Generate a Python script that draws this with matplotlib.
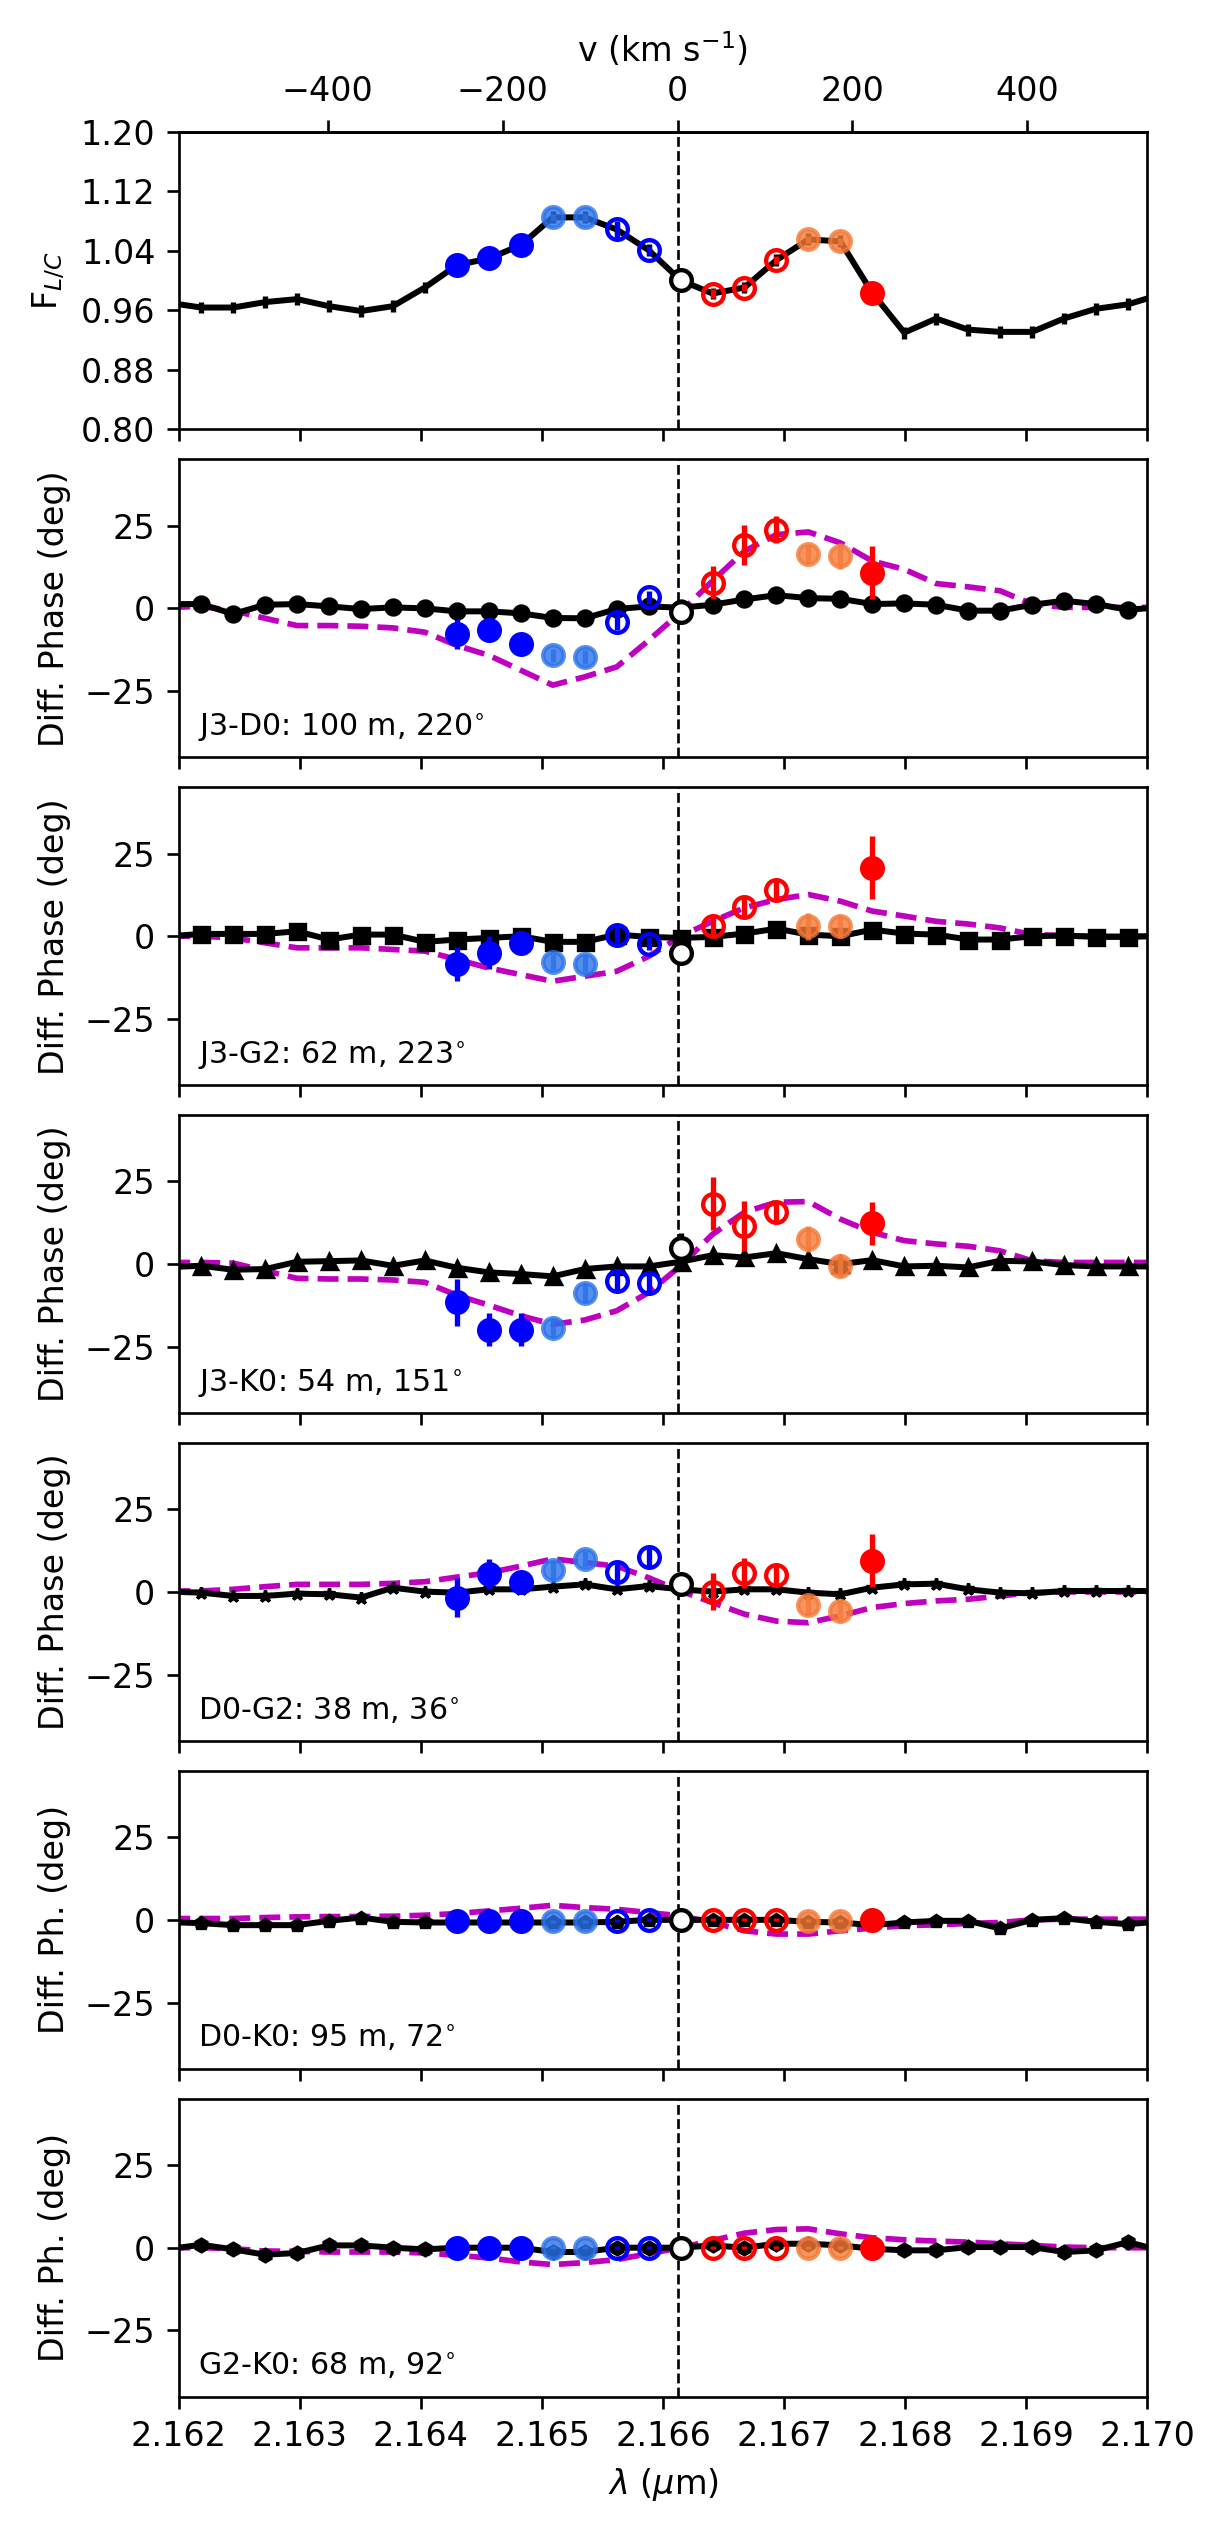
import numpy as np
import matplotlib
matplotlib.use('Agg')
import matplotlib.pyplot as plt
from matplotlib.ticker import FormatStrFormatter

LAM0 = 2.16612          # Br gamma rest wavelength (um)
C_KMS = 299792.458

# spectral channels (um)
wave = [2.161921, 2.162185, 2.162449, 2.162713, 2.162977, 2.163241, 2.163505, 2.163769,
        2.164033, 2.164297, 2.164561, 2.164825, 2.165089, 2.165353, 2.165617, 2.165881,
        2.166145, 2.166409, 2.166673, 2.166937, 2.167201, 2.167465, 2.167729, 2.167993,
        2.168257, 2.168521, 2.168785, 2.169049, 2.169313, 2.169577, 2.169841, 2.170105]

# line-to-continuum flux
flux = [0.970, 0.9637, 0.9637, 0.971, 0.975, 0.9655, 0.959, 0.9655, 0.9906, 1.0206, 1.0296,
        1.0475, 1.0848, 1.0848, 1.0686, 1.0408, 1.0004, 0.9825, 0.9906, 1.0274, 1.0552,
        1.0525, 0.9834, 0.930, 0.9489, 0.934, 0.931, 0.931, 0.949, 0.962, 0.968, 0.981]
flux_err = 0.008
flux_sel_err = [0.005, 0.005, 0.005, 0.005, 0.005, 0.012, 0.006,
                0.005, 0.006, 0.005, 0.005, 0.005, 0.005, 0.005]

# channels inside the line (index range in wave)
i_first, i_last = 9, 22

baselines = ['J3-D0: 100 m, 220$^{\\circ}$', 'J3-G2: 62 m, 223$^{\\circ}$',
             'J3-K0: 54 m, 151$^{\\circ}$', 'D0-G2: 38 m, 36$^{\\circ}$',
             'D0-K0: 95 m, 72$^{\\circ}$', 'G2-K0: 68 m, 92$^{\\circ}$']
ylabels = ['Diff. Phase (deg)'] * 4 + ['Diff. Ph. (deg)'] * 2
cont_markers = ['o', 's', '^', '*', 'p', 'h']
vel_ticks = [-400, -200, 0, 200, 400]

# differential phase, all channels (black)
dphi_all = [
    [1.3, 1.3, -1.7, 1.1, 1.3, 0.6, -0.2, 0.3, 0.0, -0.9, -0.9, -1.5, -2.9, -3.0, -0.2, 0.6,
     0.2, 1.1, 2.7, 4.0, 3.1, 2.9, 1.3, 1.5, 1.1, -0.7, -0.7, 1.1, 2.3, 1.3, -0.4, 0.3],
    [0.0, 0.7, 0.7, 0.7, 1.5, -1.0, 0.5, 0.5, -1.7, -1.0, -0.5, 0.0, -1.7, -1.7, 0.5, -0.2,
     -0.5, -0.2, 0.8, 2.3, 0.5, 0.0, 2.0, 0.8, 0.5, -1.0, -1.0, 0.0, 0.2, -0.2, -0.2, 0.1],
    [-0.9, -0.5, -1.7, -1.5, 0.7, 0.9, 1.1, -0.5, 1.1, -1.1, -2.5, -3.0, -3.7, -1.5, -0.7, -0.7,
     0.7, 2.7, 2.0, 3.3, 1.5, 0.0, 1.2, -0.7, -0.5, -1.0, 1.0, 0.8, -0.3, -0.7, -0.7, -0.7],
    [0.1, -0.2, -1.2, -1.2, -0.5, -0.7, -1.7, 1.3, 0.1, -0.2, 0.8, 0.8, 1.6, 2.3, 0.8, 1.8,
     0.8, 0.1, 0.8, 0.8, -0.2, -0.7, 1.3, 2.3, 2.5, 0.8, -0.2, -0.4, 0.3, 0.3, 0.3, 0.3],
    [-0.7, -1.0, -1.6, -1.6, -1.6, -0.3, 0.7, -0.6, -0.8, -0.8, -0.8, -0.8, -0.8, -0.8, -0.6, 0.0,
     0.0, 0.0, 0.0, 0.0, -0.6, -0.8, -1.6, -0.8, -0.3, -0.3, -2.6, 0.0, 0.5, -0.6, -1.3, -0.5],
    [-0.4, 0.9, -0.5, -2.1, -1.6, 0.7, 0.7, 0.0, -0.5, 0.0, 0.0, 0.0, -1.3, -1.3, 0.0, 0.0,
     0.0, 0.7, 0.0, 1.2, 1.2, 0.7, -0.3, -0.8, -0.8, 0.2, 0.2, 0.2, -1.3, -0.8, 1.7, -0.8],
]
dphi_all_err = 0.7

# differential phase of the line channels (coloured points)
dphi_line = [
    [-7.7, -6.5, -10.7, -14.2, -14.7, -4.0, 3.3, -1.2, 7.8, 19.1, 23.8, 16.3, 15.8, 10.8],
    [-8.4, -5.0, -2.0, -7.8, -8.3, 0.5, -2.2, -5.0, 3.0, 8.8, 13.9, 3.0, 3.0, 20.7],
    [-11.6, -19.9, -19.9, -19.2, -8.8, -5.0, -5.8, 5.0, 18.2, 11.6, 15.7, 7.6, -0.5, 12.4],
    [-1.7, 5.5, 3.0, 6.5, 9.9, 6.1, 10.6, 2.3, 0.1, 5.8, 5.0, -4.0, -5.7, 9.4],
    [-0.3, -0.3, -0.3, -0.4, -0.4, -0.3, 0.0, 0.0, 0.0, 0.0, 0.0, -0.3, -0.3, -0.1],
    [0.0, 0.0, 0.0, 0.0, 0.0, 0.0, 0.0, 0.0, 0.0, 0.0, 0.0, 0.0, 0.0, 0.0],
]
dphi_line_err = [
    [4.5, 3.5, 3.0, 2.0, 2.0, 2.5, 2.0, 1.5, 5.0, 6.0, 4.0, 3.0, 4.0, 8.0],
    [5.0, 5.0, 3.0, 2.5, 2.5, 2.5, 2.0, 2.5, 3.0, 3.0, 3.0, 4.0, 3.5, 9.5],
    [7.0, 5.0, 5.0, 3.0, 3.0, 3.0, 3.5, 4.5, 8.0, 7.5, 3.0, 4.0, 3.5, 6.5],
    [6.0, 4.5, 3.0, 3.0, 2.5, 3.0, 3.0, 2.0, 5.5, 4.5, 3.5, 3.0, 3.5, 8.0],
    [0.5, 0.5, 0.5, 0.5, 0.5, 0.5, 0.5, 0.5, 0.5, 0.5, 0.5, 0.5, 0.5, 0.5],
    [0.5, 0.5, 0.5, 0.5, 0.5, 0.5, 0.5, 0.5, 0.5, 0.5, 0.5, 0.5, 0.5, 0.5],
]

# model differential phase (magenta dashed)
dphi_model = [
    [0.3, 0.6, -0.7, -3.0, -5.2, -5.2, -5.4, -5.9, -7.2, -11.2, -14.2, -18.7, -23.2, -20.7, -17.7, -9.7,
     -1.2, 8.3, 17.3, 22.3, 23.1, 19.8, 14.3, 11.8, 7.5, 6.5, 5.3, 1.3, 0.3, 0.3, 0.3, 0.3],
    [0.0, 0.0, -0.5, -2.0, -3.5, -3.5, -3.5, -4.0, -4.5, -7.0, -9.6, -11.6, -13.6, -12.1, -10.6, -6.1,
     0.0, 4.5, 8.6, 11.1, 12.6, 10.6, 7.6, 6.1, 4.5, 3.7, 2.5, 0.5, 0.2, 0.0, 0.0, 0.0],
    [0.5, 0.5, 0.3, -2.0, -4.3, -4.5, -4.5, -4.8, -5.5, -9.4, -12.4, -15.6, -18.2, -16.9, -14.1, -8.6,
     -0.5, 9.0, 15.7, 18.7, 18.9, 13.6, 9.6, 7.1, 6.1, 5.4, 4.0, 1.0, 0.5, 0.5, 0.5, 0.5],
    [0.3, 0.3, 0.8, 1.6, 2.3, 2.3, 2.3, 2.6, 3.1, 4.5, 5.8, 7.8, 10.0, 8.9, 7.8, 4.3,
     0.3, -3.2, -6.7, -8.8, -9.3, -7.2, -4.7, -3.5, -2.7, -2.2, -1.2, -0.2, 0.0, 0.0, 0.0, 0.0],
    [0.4, 0.4, 0.4, 0.7, 0.9, 1.0, 1.0, 1.1, 1.4, 1.9, 2.7, 3.5, 4.4, 3.7, 3.2, 2.2,
     1.2, -0.8, -3.3, -4.3, -4.3, -3.3, -2.5, -1.8, -1.5, -1.1, -0.8, 0.0, 0.2, 0.2, 0.2, 0.2],
    [0.0, 0.0, -0.3, -1.0, -1.1, -1.3, -1.3, -1.3, -1.6, -2.3, -3.1, -4.3, -5.1, -4.5, -3.6, -1.8,
     0.0, 2.2, 4.4, 5.5, 5.7, 4.2, 3.0, 2.4, 2.0, 1.7, 1.2, 0.7, 0.2, 0.0, 0.0, 0.0],
]

# style of each line channel: (edge colour, face colour, alpha)
LBLUE = '#2a72ea'
ORANGE = '#f47a38'
pt_styles = ([('blue', 'blue', 1.0)] * 3 + [(LBLUE, LBLUE, 0.8)] * 2 +
             [('blue', 'none', 1.0)] * 2 + [('black', 'white', 1.0)] +
             [('red', 'none', 1.0)] * 3 + [(ORANGE, ORANGE, 0.8)] * 2 + [('red', 'red', 1.0)])


def plot_line_points(ax, y, yerr):
    lam = wave[i_first:i_last + 1]
    for k, (ec, fc, a) in enumerate(pt_styles):
        ax.errorbar(lam[k], y[k], yerr=yerr[k], fmt='o', color=ec, mec=ec, mfc=fc,
                    ms=6.2, mew=1.3, elinewidth=1.6, alpha=a, zorder=5)


fig = plt.figure(figsize=(1222 / 240, 2531 / 240), dpi=240)
gs = fig.add_gridspec(7, 1, left=0.1463, right=0.9388, top=0.948, bottom=0.0531, hspace=0.101)
axes = [fig.add_subplot(gs[0])]
for i in range(1, 7):
    axes.append(fig.add_subplot(gs[i], sharex=axes[0]))

# top panel: flux
ax = axes[0]
ax.errorbar(wave, flux, yerr=flux_err, fmt='-', color='k', lw=1.8, elinewidth=1.6, zorder=3)
plot_line_points(ax, flux[i_first:i_last + 1], flux_sel_err)
ax.axvline(LAM0, color='k', ls='--', lw=0.8, zorder=4)
ax.set_ylim(0.80, 1.20)
ax.set_yticks([0.80, 0.88, 0.96, 1.04, 1.12, 1.20])
ax.yaxis.set_major_formatter(FormatStrFormatter('%.2f'))
ax.set_ylabel('F$_{L/C}$')
secax = ax.secondary_xaxis('top', functions=(lambda l: (l - LAM0) / LAM0 * C_KMS,
                                             lambda v: LAM0 * (1 + v / C_KMS)))
secax.set_xticks(vel_ticks)
secax.set_xlabel('v (km s$^{-1}$)')

for j in range(6):
    ax = axes[j + 1]
    ax.plot(wave, dphi_model[j], '--', color='m', lw=1.7, zorder=2)
    ax.errorbar(wave, dphi_all[j], yerr=dphi_all_err, fmt='-', marker=cont_markers[j],
                color='k', ms=4.5 if j < 3 else 3.8, lw=1.8, elinewidth=1, zorder=3)
    plot_line_points(ax, dphi_line[j], dphi_line_err[j])
    ax.axvline(LAM0, color='k', ls='--', lw=0.8, zorder=4)
    ax.set_ylim(-45, 45)
    ax.set_yticks([-25, 0, 25])
    ax.set_ylabel(ylabels[j])
    ax.text(0.02, 0.075, baselines[j], transform=ax.transAxes, fontsize=9, va='baseline')

for ax in axes[:-1]:
    ax.tick_params(labelbottom=False)
axes[-1].set_xlim(2.162, 2.170)
axes[-1].set_xticks([2.162, 2.163, 2.164, 2.165, 2.166, 2.167, 2.168, 2.169, 2.170])
axes[-1].xaxis.set_major_formatter(FormatStrFormatter('%.3f'))
axes[-1].set_xlabel('$\\lambda$ ($\\mu$m)')

fig.savefig('out.png', dpi=240)
